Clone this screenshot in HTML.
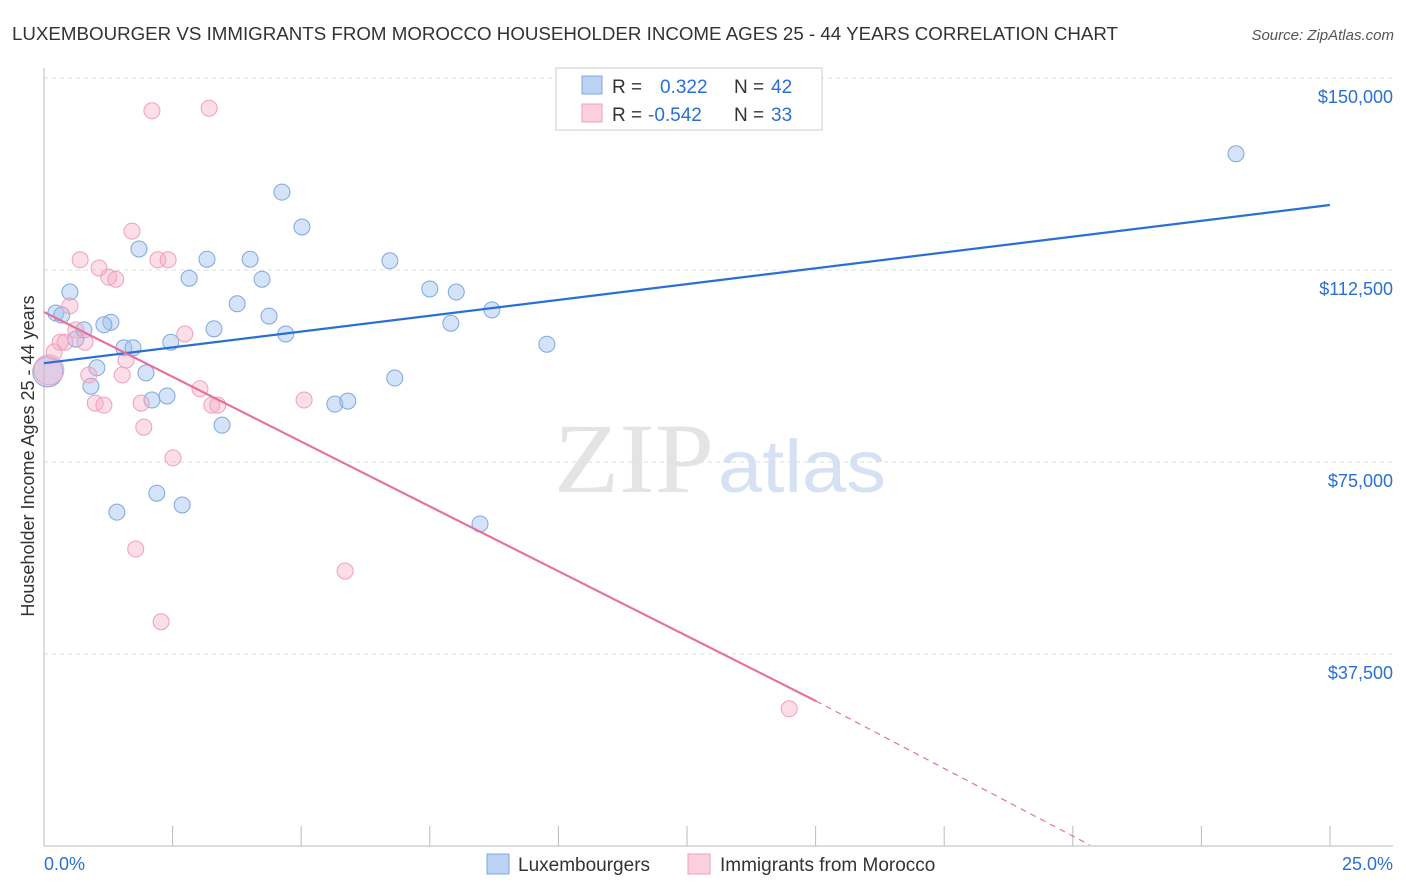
<!DOCTYPE html>
<html><head><meta charset="utf-8"><style>
body{margin:0;background:#fff;font-family:"Liberation Sans",sans-serif;}
svg{display:block}
</style></head><body>
<svg id="c" width="1406" height="892">
<text x="12" y="40" font-size="18" fill="#333" textLength="1106" lengthAdjust="spacingAndGlyphs">LUXEMBOURGER VS IMMIGRANTS FROM MOROCCO HOUSEHOLDER INCOME AGES 25 - 44 YEARS CORRELATION CHART</text>
<text x="1394" y="40" font-size="15" fill="#555" font-style="italic" text-anchor="end">Source: ZipAtlas.com</text>
<text x="714" y="492" font-size="100" fill="#e4e4e4" text-anchor="end" textLength="160" lengthAdjust="spacingAndGlyphs" font-family="Liberation Serif,serif">ZIP</text>
<text x="718" y="492" font-size="74" fill="#d6e2f4" textLength="168" lengthAdjust="spacingAndGlyphs">atlas</text>
<text x="34" y="456" font-size="18" fill="#333" text-anchor="middle" transform="rotate(-90 34 456)">Householder Income Ages 25 - 44 years</text>
<g id="grid"></g><g id="marks"></g>
<g>
<rect x="556" y="68" width="266" height="62" fill="#fff" stroke="#ccc"/>
<rect x="582" y="76" width="20" height="18" fill="#bcd2f4" stroke="#7fa8e0"/>
<text x="612" y="93" font-size="19" fill="#333">R =</text><text x="660" y="93" font-size="19" fill="#2a6fd6">0.322</text>
<text x="734" y="93" font-size="19" fill="#333">N =</text><text x="771" y="93" font-size="19" fill="#2a6fd6">42</text>
<rect x="582" y="104" width="20" height="18" fill="#fbd0de" stroke="#f0a0bb"/>
<text x="612" y="121" font-size="19" fill="#333">R =</text><text x="648" y="121" font-size="19" fill="#2a6fd6">-0.542</text>
<text x="734" y="121" font-size="19" fill="#333">N =</text><text x="771" y="121" font-size="19" fill="#2a6fd6">33</text>
</g>
<g>
<rect x="487" y="854" width="22" height="20" fill="#bcd2f4" stroke="#7fa8e0"/>
<text x="518" y="871" font-size="19" fill="#333">Luxembourgers</text>
<rect x="688" y="854" width="22" height="20" fill="#fbd0de" stroke="#f0a0bb"/>
<text x="720" y="871" font-size="19" fill="#333">Immigrants from Morocco</text>
</g>
<text x="44" y="870" font-size="18" fill="#2a6fd6">0.0%</text>
<text x="1393" y="870" font-size="18" fill="#2a6fd6" text-anchor="end">25.0%</text>
</svg>
<script>
const yTicks=[37500,75000,112500,150000];
const yTickLabels=["$37,500","$75,000","$112,500","$150,000"];
const luxX=[0.22,0.48,0.33,0.59,0.74,1.24,1.11,0.98,0.87,1.48,1.65,1.76,1.89,2.00,2.28,2.09,2.56,1.35,2.35,2.69,3.02,3.15,3.30,3.58,3.82,4.04,4.17,4.41,4.48,4.78,5.39,5.63,6.41,6.50,7.15,7.64,7.54,8.30,9.32,8.08,22.09,0.07];
const luxY=[104100,108200,103700,99000,100800,102300,101800,93400,89800,97300,97300,116600,92400,87100,87900,68900,66600,65200,98400,110900,114600,101000,82200,105900,114600,110700,103500,127700,100000,120900,86300,86900,114300,91400,108800,108200,102100,104700,98000,62900,135200,92600];
const morX=[0.09,0.19,0.30,0.39,0.48,0.67,0.59,0.76,0.83,0.95,1.11,1.02,1.20,1.33,1.45,1.52,1.63,1.80,1.85,2.11,2.30,2.00,3.06,2.39,2.61,2.89,3.11,3.22,1.70,2.17,4.82,5.58,13.81];
const morY=[93000,96500,98400,98400,105500,114500,100800,98400,92000,86500,86100,112900,111100,110700,92000,94900,120100,86500,81800,114500,114500,143600,144100,75800,100000,89300,86100,86100,58000,43800,87100,53700,26800];
const luxTrend=[94300,125200];
const morTrend=[104300,28300,200];
const NS="http://www.w3.org/2000/svg";
const xs=v=>44+v/25*1349, ys=v=>846-v/37500*192;
function mk(t,a,p){const e=document.createElementNS(NS,t);for(const k in a)e.setAttribute(k,a[k]);p.appendChild(e);return e;}
const g=document.getElementById('grid'),m=document.getElementById('marks');
yTicks.forEach((t,i)=>{
 const l=mk('line',{x1:44,x2:1393,y1:ys(t),y2:ys(t),stroke:'#ddd','stroke-dasharray':'4 4'},g);
 
 
 const tx=mk('text',{x:1393,y:ys(t)+25,'font-size':18,fill:'#2a6fd6','text-anchor':'end'},g);
 tx.textContent=yTickLabels[i];
 
 
});
mk('line',{x1:44,x2:44,y1:68,y2:846,stroke:'#bbb'},g);
mk('line',{x1:44,x2:1393,y1:846,y2:846,stroke:'#bbb'},g);
for(let i=1;i<=10;i++){const px=44+i*128.6;mk('line',{x1:px,x2:px,y1:826,y2:846,stroke:'#bbb'},g);}
function dot(x,y,big,fill,stroke,name){
 const c=mk('circle',{cx:xs(x),cy:ys(y),r:big?15:8,fill:fill,stroke:stroke,'stroke-width':1},m);
 
 
}
luxX.forEach((x,i)=>dot(x,luxY[i],i===luxX.length-1,'rgba(160,192,240,0.45)','#7fa8e0','lux-point'));
morX.forEach((x,i)=>dot(x,morY[i],i===0,'rgba(245,168,195,0.38)','#f0a0bb','morocco-point'));
const bl=mk('line',{x1:xs(0),y1:ys(luxTrend[0]),x2:xs(23.83),y2:ys(luxTrend[1]),stroke:'#2a6fd6','stroke-width':2.2},m);


const pl=mk('line',{x1:xs(0),y1:ys(morTrend[0]),x2:xs(14.31),y2:ys(morTrend[1]),stroke:'#e8709a','stroke-width':2.2},m);


const pd=mk('line',{x1:xs(14.31),y1:ys(morTrend[1]),x2:xs(19.38),y2:ys(morTrend[2]),stroke:'#e8709a','stroke-width':1.2,'stroke-dasharray':'6 5'},m);


</script>
</body></html>
